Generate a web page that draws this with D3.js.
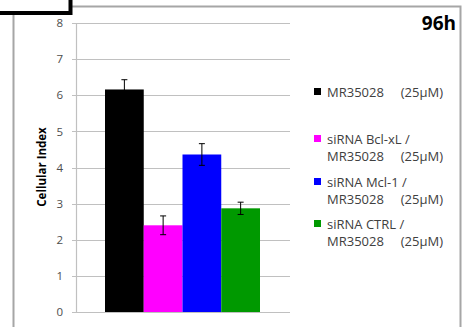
<!DOCTYPE html>
<html>
<head>
<meta charset="utf-8">
<script src="https://cdn.jsdelivr.net/npm/d3@7"></script>
<style>
  body { margin: 0; background: #fff; }
  svg { display: block; font-family: "Open Sans", "Noto Sans", sans-serif; }
</style>
</head>
<body>
<div class="chart"></div>
<script>
  // data
  var groups = ["MR35028 (25µM)", "siRNA Bcl-xL / MR35028 (25µM)", "siRNA Mcl-1 / MR35028 (25µM)", "siRNA CTRL / MR35028 (25µM)"];
  var values = [6.16, 2.40, 4.36, 2.87];
  var errors = [0.27, 0.26, 0.30, 0.17];
  var colors = ["#000000", "#ff00ff", "#0000ff", "#009900"];
  var yTicks = [0, 1, 2, 3, 4, 5, 6, 7, 8];
  // legend lines, split as in the picture
  var legendLines = [
    ["MR35028     (25µM)"],
    ["siRNA Bcl-xL /", "MR35028     (25µM)"],
    ["siRNA Mcl-1 /", "MR35028     (25µM)"],
    ["siRNA CTRL /", "MR35028     (25µM)"]
  ];
  var legendY = [92, 139, 182, 224];

  var w = 465, h = 327;
  var svg = d3.select(".chart").append("svg")
    .attr("width", w)
    .attr("height", h);

  // outer frame (grey) and the black box poking in at top-left
  svg.append("path")
    .attr("d", "M13.5,327 V14 M72,6.5 H460.5 V327")
    .attr("fill", "none")
    .attr("stroke", "#a6a6a6")
    .attr("stroke-width", 2);
  svg.append("path")
    .attr("d", "M0,13 H70.5 V0")
    .attr("fill", "none")
    .attr("stroke", "#000")
    .attr("stroke-width", 4);

  var plot = {left: 76, right: 290, top: 23, bottom: 312};

  var y = d3.scaleLinear().domain([0, 8]).range([plot.bottom, plot.top]);
  var x = d3.scaleBand().domain(groups).range([105, 260]).padding(0);

  // gridlines
  svg.append("g").selectAll("line")
    .data(yTicks)
    .enter().append("line")
    .attr("x1", plot.left - 4)
    .attr("x2", plot.right)
    .attr("y1", function(d){ return Math.round(y(d)) + 0.5; })
    .attr("y2", function(d){ return Math.round(y(d)) + 0.5; })
    .attr("stroke", "#c0c0c0")
    .attr("stroke-width", 1.2);

  // y axis line
  svg.append("line")
    .attr("x1", plot.left + 0.5).attr("x2", plot.left + 0.5)
    .attr("y1", y(8)).attr("y2", y(0))
    .attr("stroke", "#c0c0c0")
    .attr("stroke-width", 1.2);

  // tick labels
  svg.append("g").selectAll("text")
    .data(yTicks)
    .enter().append("text")
    .attr("x", 63)
    .attr("y", function(d){ return y(d); })
    .attr("dy", "0.36em")
    .attr("text-anchor", "end")
    .attr("fill", "#4d4d4d")
    .style("font-size", "11.5px")
    .text(function(d){ return d; });

  // axis title
  svg.append("text")
    .attr("transform", "translate(46," + 167 + ") rotate(-90)")
    .attr("text-anchor", "middle")
    .attr("fill", "#000")
    .style("font-size", "11.5px")
    .style("font-weight", "bold")
    .text("Cellular Index");

  // bars
  svg.append("g").selectAll("rect")
    .data(values)
    .enter().append("rect")
    .attr("x", function(d, i){ return x(groups[i]); })
    .attr("width", x.bandwidth())
    .attr("y", function(d){ return y(d); })
    .attr("height", function(d){ return y(0) - y(d); })
    .attr("fill", function(d, i){ return colors[i]; });

  // error bars
  var eb = svg.append("g").selectAll("g")
    .data(values)
    .enter().append("g")
    .attr("stroke", "#000")
    .attr("stroke-width", 1);
  eb.append("line")
    .attr("x1", function(d, i){ return x(groups[i]) + x.bandwidth()/2; })
    .attr("x2", function(d, i){ return x(groups[i]) + x.bandwidth()/2; })
    .attr("y1", function(d, i){ return y(d + errors[i]); })
    .attr("y2", function(d, i){ return y(d - errors[i]); });
  eb.append("line")
    .attr("x1", function(d, i){ return x(groups[i]) + x.bandwidth()/2 - 3; })
    .attr("x2", function(d, i){ return x(groups[i]) + x.bandwidth()/2 + 3; })
    .attr("y1", function(d, i){ return y(d + errors[i]); })
    .attr("y2", function(d, i){ return y(d + errors[i]); });
  eb.append("line")
    .attr("x1", function(d, i){ return x(groups[i]) + x.bandwidth()/2 - 3; })
    .attr("x2", function(d, i){ return x(groups[i]) + x.bandwidth()/2 + 3; })
    .attr("y1", function(d, i){ return y(d - errors[i]); })
    .attr("y2", function(d, i){ return y(d - errors[i]); });

  // legend
  var lg = svg.append("g").selectAll("g")
    .data(legendLines)
    .enter().append("g")
    .attr("transform", function(d, i){ return "translate(314," + legendY[i] + ")"; });
  lg.append("rect")
    .attr("x", 0).attr("y", -4)
    .attr("width", 7).attr("height", 7)
    .attr("fill", function(d, i){ return colors[i]; });
  lg.append("text")
    .attr("fill", "#404040")
    .style("font-size", "13px")
    .style("white-space", "pre")
    .selectAll("tspan")
    .data(function(d){ return d; })
    .enter().append("tspan")
    .attr("x", 13)
    .attr("y", function(d, i){ return i * 17; })
    .attr("dy", "0.36em")
    .text(function(d){ return d; });

  // time label
  svg.append("text")
    .attr("x", 456)
    .attr("y", 30)
    .attr("text-anchor", "end")
    .attr("fill", "#000")
    .style("font-size", "19px")
    .style("font-weight", "bold")
    .text("96h");
</script>
</body>
</html>
